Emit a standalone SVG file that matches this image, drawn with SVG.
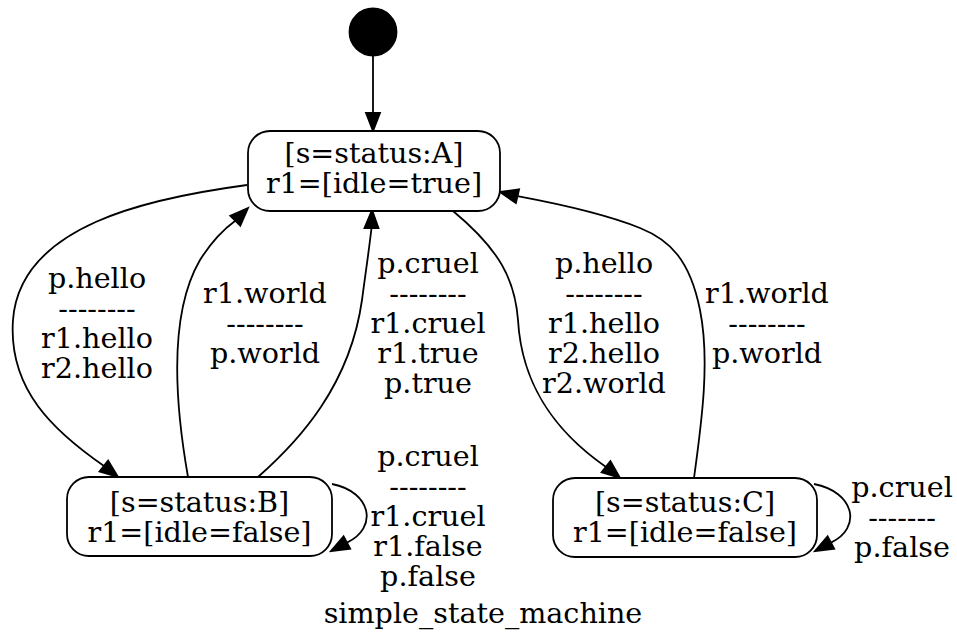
<svg xmlns="http://www.w3.org/2000/svg" width="957" height="633" viewBox="0 0 957 633">
<style>
text{font-family:"DejaVu Serif","Liberation Serif",serif;font-size:28.6px;fill:#000;text-anchor:middle}
.node rect{fill:#fff;stroke:#000;stroke-width:1.8}
.edge path{fill:none;stroke:#000;stroke-width:1.8}
.edge polygon{fill:#000;stroke:#000;stroke-width:1.8}
</style>
<rect width="957" height="633" fill="#fff"/>
<g id="edges" class="edge">
<path d="M373,55 L373,113"/>
<polygon points="373,131 366,113 380,113"/>
<path d="M247,185 C150,198 20,225 13,320 C8,390 55,432 104,466"/>
<polygon points="118,477 99.5,471.5 108.1,460.5"/>
<path d="M188,477 C178,420 165,320 200,260 C212,241 224,229 235,221"/>
<polygon points="248,208 230.3,215.7 240.3,225.7"/>
<path d="M258,477 C300,440 350,385 362,300 C366,270 369,250 371.5,228"/>
<polygon points="372,210 364.5,228 378.5,228"/>
<path d="M453,211 C500,250 515,280 518,320 C522,390 560,435 606,467"/>
<polygon points="620,478 601.6,472.2 610.4,461.2"/>
<path d="M694,478 C702,420 710,360 700,310 C690,260 670,240 640,228 C610,216 570,206 517.5,196.2"/>
<polygon points="500,192 519.1,189.4 515.9,203"/>
<path d="M332,484 C372,492 378,528 347,542.6"/>
<polygon points="331,551 350.2,548.8 343.6,536.4"/>
<path d="M814,484 C855,492 862,528 831,542.6"/>
<polygon points="815,551 834.2,548.8 827.6,536.4"/>
<text><tspan x="97" y="288">p.hello</tspan><tspan x="97" y="318">--------</tspan><tspan x="97" y="348">r1.hello</tspan><tspan x="97" y="378">r2.hello</tspan></text>
<text><tspan x="265" y="303">r1.world</tspan><tspan x="265" y="333">--------</tspan><tspan x="265" y="363">p.world</tspan></text>
<text><tspan x="428" y="273">p.cruel</tspan><tspan x="428" y="303">--------</tspan><tspan x="428" y="333">r1.cruel</tspan><tspan x="428" y="363">r1.true</tspan><tspan x="428" y="393">p.true</tspan></text>
<text><tspan x="604" y="273">p.hello</tspan><tspan x="604" y="303">--------</tspan><tspan x="604" y="333">r1.hello</tspan><tspan x="604" y="363">r2.hello</tspan><tspan x="604" y="393">r2.world</tspan></text>
<text><tspan x="767" y="303">r1.world</tspan><tspan x="767" y="333">--------</tspan><tspan x="767" y="363">p.world</tspan></text>
<text><tspan x="428" y="466">p.cruel</tspan><tspan x="428" y="496">--------</tspan><tspan x="428" y="526">r1.cruel</tspan><tspan x="428" y="556">r1.false</tspan><tspan x="428" y="586">p.false</tspan></text>
<text><tspan x="902" y="497">p.cruel</tspan><tspan x="902" y="527">-------</tspan><tspan x="902" y="557">p.false</tspan></text>
</g>
<g id="initial">
<circle cx="373" cy="32" r="23.5" fill="#000" stroke="#000" stroke-width="1.8"/>
</g>
<g id="stateA" class="node">
<rect x="248" y="131" width="252" height="80" rx="22" ry="22"/>
<text><tspan x="374" y="163">[s=status:A]</tspan><tspan x="374" y="193">r1=[idle=true]</tspan></text>
</g>
<g id="stateB" class="node">
<rect x="67" y="477" width="265" height="79" rx="22" ry="22"/>
<text><tspan x="199.5" y="512">[s=status:B]</tspan><tspan x="199.5" y="542">r1=[idle=false]</tspan></text>
</g>
<g id="stateC" class="node">
<rect x="553" y="478" width="264" height="79" rx="22" ry="22"/>
<text><tspan x="685" y="512">[s=status:C]</tspan><tspan x="685" y="542">r1=[idle=false]</tspan></text>
</g>
<g id="title">
<text x="483" y="623">simple_state_machine</text>
</g>
</svg>
